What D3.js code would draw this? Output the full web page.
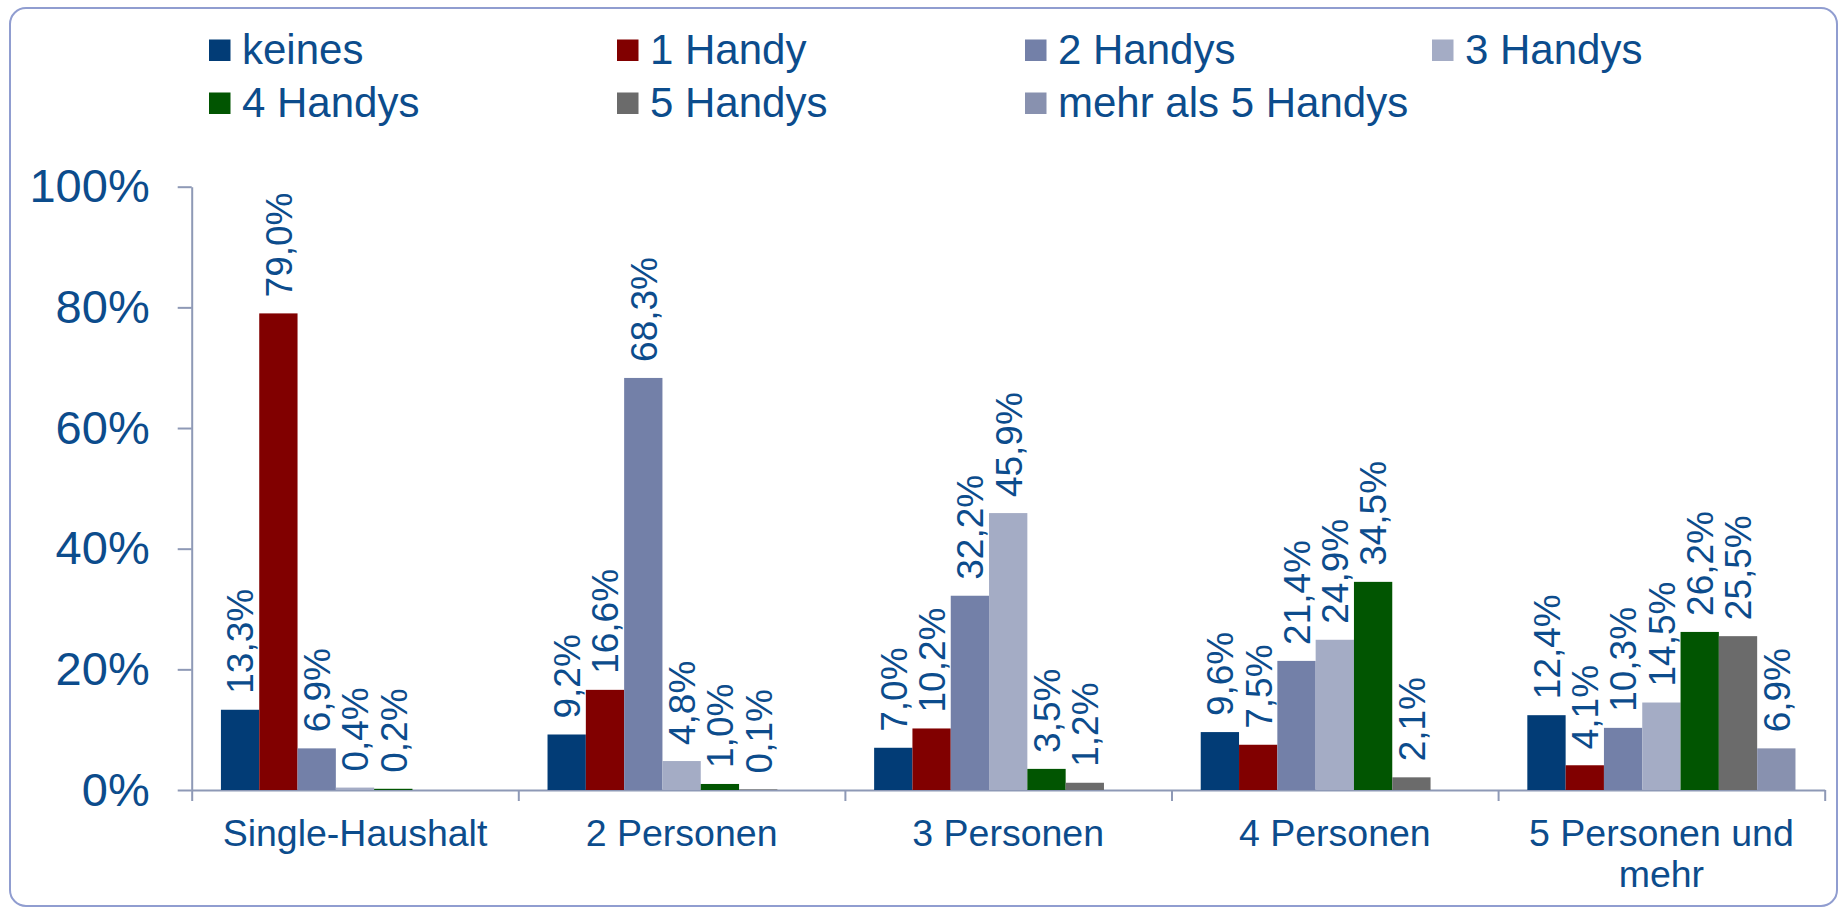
<!DOCTYPE html>
<html>
<head>
<meta charset="utf-8">
<script src="https://cdn.jsdelivr.net/npm/d3@7"></script>
<style>
  html, body { margin: 0; padding: 0; background: #fff; }
  svg { display: block; font-family: "Liberation Sans", Arial, sans-serif; }
</style>
</head>
<body>
<svg id="chart" width="1845" height="908"></svg>
<script>
// ---- data ----
const categories = ["Single-Haushalt", "2 Personen", "3 Personen", "4 Personen", "5 Personen und mehr"];
const seriesNames = ["keines", "1 Handy", "2 Handys", "3 Handys", "4 Handys", "5 Handys", "mehr als 5 Handys"];
const keines      = [13.3, 9.2, 7.0, 9.6, 12.4];
const handy1      = [79.0, 16.6, 10.2, 7.5, 4.1];
const handys2     = [6.9, 68.3, 32.2, 21.4, 10.3];
const handys3     = [0.4, 4.8, 45.9, 24.9, 14.5];
const handys4     = [0.2, 1.0, 3.5, 34.5, 26.2];
const handys5     = [null, 0.1, 1.2, 2.1, 25.5];
const mehrAls5    = [null, null, null, null, 6.9];
const yTicks = [0, 20, 40, 60, 80, 100];
const colors = ["#023C76", "#810000", "#7380A8", "#A4ACC5", "#015501", "#6B6B6B", "#8891AF"];

const seriesValues = [keines, handy1, handys2, handys3, handys4, handys5, mehrAls5];

// ---- layout ----
const svg = d3.select("#chart");
const textColor = "#0C4C8C";
const axisColor = "#8E99B6";
const plot = { left: 191.7, right: 1824.7, top: 186.7, bottom: 790 };

// frame
svg.append("rect")
  .attr("x", 10).attr("y", 8).attr("width", 1827).attr("height", 898)
  .attr("rx", 16).attr("ry", 16)
  .attr("fill", "none").attr("stroke", "#909DD0").attr("stroke-width", 2);

const x0 = d3.scaleBand().domain(categories).range([plot.left, plot.right]).paddingInner(0).paddingOuter(0);
const x1 = d3.scaleBand().domain(seriesNames).range([0, x0.bandwidth()]).paddingInner(0).paddingOuter(0.763);
const y = d3.scaleLinear().domain([0, 100]).range([plot.bottom, plot.top]);

// y axis
const yAxis = svg.append("g")
  .attr("transform", `translate(${plot.left},0)`)
  .call(d3.axisLeft(y).tickValues(yTicks).tickSize(14).tickSizeOuter(0).tickFormat(d => d + "%").tickPadding(28));
yAxis.select(".domain").attr("stroke", axisColor).attr("stroke-width", 2);
yAxis.selectAll(".tick line").attr("stroke", axisColor).attr("stroke-width", 2);
yAxis.selectAll(".tick text")
  .attr("fill", textColor).style("font-size", "47px")
  .style("font-family", "'Liberation Sans', Arial, sans-serif");

// x axis with boundary ticks
const xBound = d3.scaleLinear().domain([0, categories.length]).range([plot.left, plot.right]);
const xAxis = svg.append("g")
  .attr("transform", `translate(0,${plot.bottom})`)
  .call(d3.axisBottom(xBound).ticks(categories.length).tickSize(11).tickSizeOuter(0).tickFormat(""));
xAxis.select(".domain").attr("stroke", axisColor).attr("stroke-width", 2);
xAxis.selectAll(".tick line").attr("stroke", axisColor).attr("stroke-width", 2);

// category labels (wrapped)
const catG = svg.append("g");
categories.forEach(c => {
  const words = c.split(" ");
  const maxW = x0.bandwidth() - 20;
  const t = catG.append("text")
    .attr("x", x0(c) + x0.bandwidth() / 2)
    .attr("y", 846)
    .attr("text-anchor", "middle")
    .attr("fill", textColor)
    .style("font-size", "37.5px");
  let line = [];
  let tspan = t.append("tspan").attr("x", x0(c) + x0.bandwidth() / 2).attr("dy", 0);
  words.forEach(w => {
    line.push(w);
    tspan.text(line.join(" "));
    if (tspan.node().getComputedTextLength() > maxW && line.length > 1) {
      line.pop();
      tspan.text(line.join(" "));
      line = [w];
      tspan = t.append("tspan").attr("x", x0(c) + x0.bandwidth() / 2).attr("dy", 41).text(w);
    }
  });
});

// bars
const barsG = svg.append("g");
seriesNames.forEach((s, si) => {
  const vals = seriesValues[si];
  categories.forEach((c, ci) => {
    const v = vals[ci];
    if (v == null) return;
    const bx = x0(c) + x1(s);
    barsG.append("rect")
      .attr("x", bx)
      .attr("y", y(v))
      .attr("width", x1.bandwidth())
      .attr("height", y(0) - y(v))
      .attr("fill", colors[si]);
    const cx = bx + x1.bandwidth() / 2;
    const ty = y(v) - 16;
    barsG.append("text")
      .attr("transform", `translate(${cx},${ty}) rotate(-90)`)
      .attr("dy", "0.36em")
      .attr("text-anchor", "start")
      .attr("fill", textColor)
      .style("font-size", "37px")
      .text(d3.format(".1f")(v).replace(".", ",") + "%");
  });
});

// legend
const legendCols = [209, 617, 1025, 1432];
const legendRows = [39.5, 92.5];
const legendG = svg.append("g");
seriesNames.forEach((s, i) => {
  const col = i % 4, row = Math.floor(i / 4);
  const lx = legendCols[col], ly = legendRows[row];
  legendG.append("rect")
    .attr("x", lx).attr("y", ly).attr("width", 21.5).attr("height", 21.5)
    .attr("fill", colors[i]);
  legendG.append("text")
    .attr("x", lx + 33).attr("y", ly + 24)
    .attr("fill", textColor)
    .style("font-size", "42px")
    .text(s);
});
</script>
</body>
</html>
